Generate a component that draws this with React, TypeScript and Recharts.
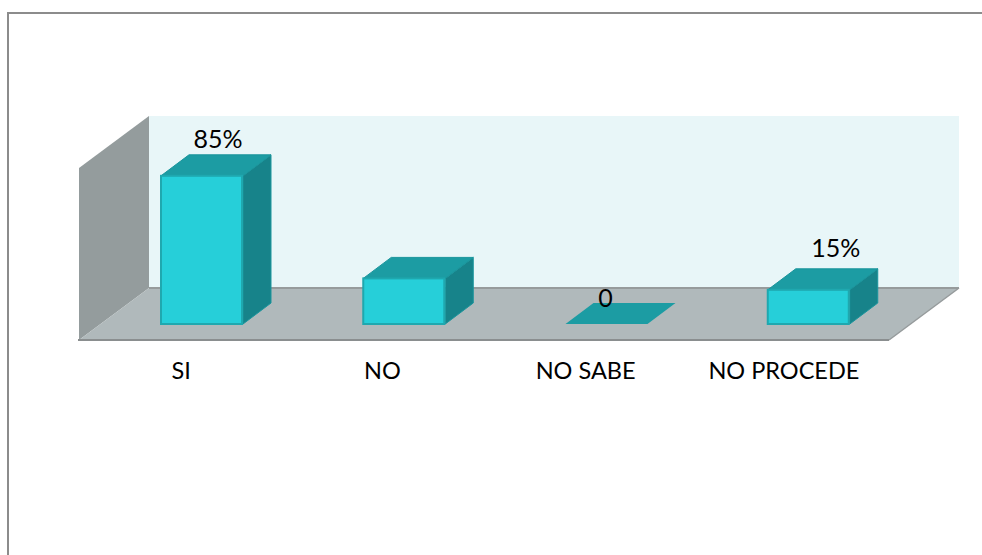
import React from 'react';
import { BarChart, Bar, XAxis, YAxis, ReferenceArea, LabelList } from 'recharts';

const categories = ['SI', 'NO', 'NO SABE', 'NO PROCEDE'];
const counts = [13, 4, 0, 3];
const valueLabels = ['85%', '', '0', '15%'];

const data = categories.map((name, i) => ({ name, value: counts[i], label: valueLabels[i] }));

const FONT = 'Lato, sans-serif';
const DEPTH_X = 28;
const DEPTH_Y = 21;
// hand placed labels in the original, offset from the top centre of each bar
const LABEL_DX = [16, 0, -1, 27];
const LABEL_DY = [-38, 0, -27, -43];
const TICK_DX = [-21, -22, -21, -25];

const pts = (list: number[][]) => list.map((p) => p.join(',')).join(' ');

const Room = ({ x, y, width, height }: any) => {
  const bottom = y + height;
  const backL = x + 48;
  const backR = x + width + 49;
  const backT = y - 37;
  const backB = bottom - 36;
  const frontL = x - 22;
  const frontR = x + width - 21;
  const frontB = bottom + 16;
  const frontT = y + 15;
  return (
    <g>
      <polygon points={pts([[backL, backT], [backR, backT], [backR, backB], [backL, backB]])} fill="#E8F6F8" />
      <polygon points={pts([[frontL, frontT], [backL, backT], [backL, backB], [frontL, frontB]])} fill="#949C9D" />
      <polygon points={pts([[frontL, frontB], [frontR, frontB], [backR, backB], [backL, backB]])} fill="#B0B9BB" />
      <line x1={backL} y1={backB} x2={backR} y2={backB} stroke="#969B9C" strokeWidth={2} />
      <line x1={frontR} y1={frontB} x2={backR} y2={backB} stroke="#969B9C" strokeWidth={1.5} />
      <line x1={frontL - 1} y1={frontB} x2={frontR} y2={frontB} stroke="#8A8E8F" strokeWidth={2} />
    </g>
  );
};

const Box = ({ x, y, width, height }: any) => {
  const r = x + width;
  const b = y + height;
  const top = pts([[x, y], [r, y], [r + DEPTH_X, y - DEPTH_Y], [x + DEPTH_X, y - DEPTH_Y]]);
  if (height <= 0) return <polygon points={top} fill="#1C9CA3" />;
  return (
    <g>
      <polygon
        points={pts([[r, y], [r + DEPTH_X, y - DEPTH_Y], [r + DEPTH_X, b - DEPTH_Y], [r, b]])}
        fill="#17838A"
        stroke="#1A959C"
        strokeWidth={1}
      />
      <polygon points={top} fill="#1C9CA3" stroke="#1A959C" strokeWidth={1} />
      <rect x={x} y={y} width={width - 1} height={height} fill="#26CFD9" stroke="#1FA8AF" strokeWidth={2} />
    </g>
  );
};

const ValueLabel = ({ x, y, width, index, value }: any) => {
  if (!value) return null;
  return (
    <text
      x={x + width / 2 + LABEL_DX[index]}
      y={y + LABEL_DY[index]}
      textAnchor="middle"
      dominantBaseline="central"
      fontFamily={FONT}
      fontSize={25}
      fill="#000"
    >
      {value}
    </text>
  );
};

const CategoryTick = ({ x, payload, index }: any) => (
  <text
    x={x + TICK_DX[index]}
    y={369.5}
    textAnchor="middle"
    dominantBaseline="central"
    fontFamily={FONT}
    fontSize={23.5}
    fill="#000"
  >
    {payload.value}
  </text>
);

export default function App() {
  return (
    <div style={{ position: 'absolute', left: 0, top: 0, width: 982, height: 555, background: '#fff', overflow: 'hidden' }}>
      <div
        style={{
          position: 'absolute',
          left: 7,
          top: 12,
          width: 990,
          height: 560,
          borderLeft: '2px solid #8C8C8C',
          borderTop: '2px solid #8C8C8C',
        }}
      />
      <div style={{ position: 'absolute', left: 0, top: 0 }}>
        <BarChart
          width={982}
          height={555}
          data={data}
          margin={{ top: 153, right: 72, bottom: 201, left: 101 }}
          barSize={82}
        >
          <ReferenceArea y1={0} y2={15} shape={<Room />} />
          <XAxis dataKey="name" height={30} axisLine={false} tickLine={false} interval={0} tick={<CategoryTick />} />
          <YAxis hide domain={[0, 15]} />
          <Bar dataKey="value" shape={<Box />} isAnimationActive={false}>
            <LabelList dataKey="label" content={<ValueLabel />} />
          </Bar>
        </BarChart>
      </div>
    </div>
  );
}
